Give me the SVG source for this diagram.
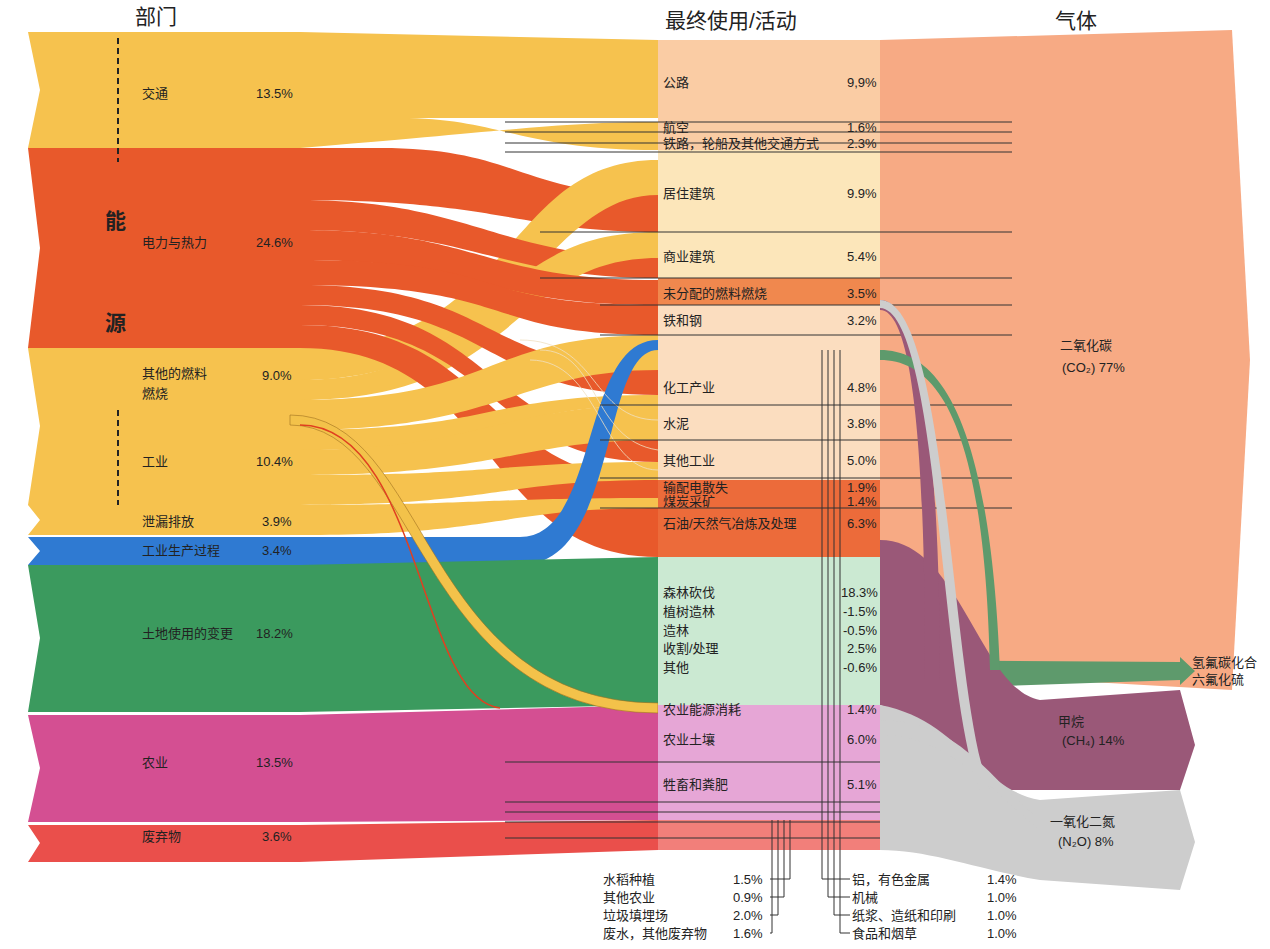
<svg xmlns="http://www.w3.org/2000/svg" width="1270" height="949" viewBox="0 0 1270 949">
<style>
text{font-family:"Liberation Sans","Noto Sans CJK SC",sans-serif;font-size:13px;fill:#222}
.h{font-size:21px}
.b{font-size:21px;font-weight:bold}
.y{fill:#F6C24E}.o{fill:#E8592B}.bl{fill:#2F7AD2}.g{fill:#3B9A5E}.p{fill:#D44F92}.r{fill:#EA4F4B}
.ln{stroke:#333;stroke-width:1;fill:none}
.tl{stroke:#F0E0C0;stroke-width:0.8;fill:none}
</style>
<rect width="1270" height="949" fill="#fff"/>
<g id="headers">
<text x="135" y="24" class="h">部门</text>
<text x="665" y="28" class="h">最终使用/活动</text>
<text x="1055" y="28" class="h">气体</text>
</g>
<g id="gases">
<path d="M880 40 L1232 30 L1250 360 L1232 690 L880 670 Z" fill="#F7AA84"/>
<path d="M880 660 L1180 662 L1180 657 L1195 671 L1180 685 L1180 680 L880 690 Z" fill="#5E9A6C"/>
<path d="M880 540 C960 540 980 690 1040 700 L1180 690 L1195 745 L1180 790 L1000 790 C950 760 930 720 880 705 Z" fill="#9A5878"/>
<path d="M880 705 C960 720 980 790 1040 800 L1180 790 L1195 842 L1180 890 L1040 880 C980 870 930 850 880 850 Z" fill="#CDCDCD"/>
<text x="1060" y="350">二氧化碳</text><text x="1062" y="372">(CO₂) 77%</text>
<text x="1058" y="726" fill="#fff">甲烷</text><text x="1062" y="745">(CH₄) 14%</text>
<text x="1050" y="826">一氧化二氮</text><text x="1058" y="846">(N₂O) 8%</text>
<text x="1192" y="667">氢氟碳化合</text><text x="1192" y="684">六氟化硫</text>
</g>
<g id="sectors">
<path class="y" d="M28 32 L300 32 L300 148 L28 148 L40 90 Z"/>
<path class="o" d="M28 148 L300 148 L300 348 L28 348 L40 248 Z"/>
<path class="y" d="M28 348 L300 348 L300 505 L28 505 L40 426 Z"/>
<path class="y" d="M28 505 L300 505 L300 535 L28 535 L40 520 Z"/>
<path class="bl" d="M28 537 L300 537 L300 565 L28 565 L40 551 Z"/>
<path class="g" d="M28 565 L300 565 L300 712 L28 712 L40 638 Z"/>
<path class="p" d="M28 715 L300 715 L300 822 L28 822 L40 768 Z"/>
<path class="r" d="M28 825 L300 825 L300 862 L28 862 L40 843 Z"/>
</g>
<g id="connectors">
<path class="y" d="M300 32 L658 40 L658 118 L300 118 Z"/>
<path class="y" d="M300 118 L400 118 C500 118 520 150 658 150 L658 122 C560 122 520 130 300 148 Z"/>
<path class="o" d="M300 148 L380 148 C520 148 520 195 658 195 L658 232 C520 232 500 200 300 200 Z"/>
<path class="y" d="M300 348 C520 348 500 160 658 160 L658 195 C540 195 520 380 300 380 Z"/>
<path class="o" d="M300 200 C470 200 500 258 658 258 L658 278 C500 278 470 230 300 230 Z"/>
<path class="y" d="M300 380 C500 380 480 232 658 232 L658 258 C510 258 520 400 300 400 Z"/>
<path class="o" d="M300 230 C480 230 480 280 658 280 L658 305 C480 305 480 260 300 260 Z"/>
<path class="o" d="M300 260 C520 260 460 305 658 305 L658 335 C480 335 520 285 300 285 Z"/>
<path class="o" d="M300 285 C500 285 480 370 658 370 L658 395 C480 395 500 305 300 305 Z"/>
<path class="o" d="M300 305 C500 305 480 440 658 440 L658 462 C480 462 500 325 300 325 Z"/>
<path class="o" d="M300 325 C500 325 480 480 658 480 L658 557 C480 557 500 348 300 348 Z"/>
<path class="y" d="M300 400 C500 400 480 335 658 335 L658 370 C520 370 500 430 300 430 Z"/>
<path class="y" d="M300 430 C500 430 480 395 658 395 L658 405 C500 405 500 450 300 450 Z"/>
<path class="y" d="M300 450 C480 450 500 405 658 405 L658 440 C520 440 500 475 300 475 Z"/>
<path class="y" d="M300 475 C500 475 500 462 658 462 L658 480 C500 480 500 505 300 505 Z"/>
<path class="y" d="M300 505 C480 505 480 498 658 498 L658 508 C500 508 500 535 300 535 Z"/>
<path class="bl" d="M300 537 L520 537 C600 537 580 340 658 340 L658 350 C600 350 620 565 520 565 L300 565 Z"/>
<path class="g" d="M300 565 L658 557 L658 705 L300 712 Z"/>
<path class="p" d="M300 715 L658 705 L658 820 L300 822 Z"/>
<path class="r" d="M300 825 L658 820 L658 850 L300 862 Z"/>
<path d="M290 415 C430 415 420 703 658 703 L658 713 C415 713 420 425 290 425 Z" fill="#F3C24A" stroke="#A07020" stroke-width="0.6"/>
<path d="M300 425 C420 425 420 700 500 708" stroke="#E04020" stroke-width="1.5" fill="none"/>
<path class="tl" d="M520 340 C600 340 590 420 658 420 M540 350 C600 350 590 440 658 450 M530 360 C600 360 600 470 658 470"/>
</g>
<g id="middle">
<rect x="658" y="40" width="222" height="110" fill="#F9C394" opacity="0.85"/>
<rect x="658" y="150" width="222" height="128" fill="#FCE3B3" opacity="0.9"/>
<rect x="658" y="278" width="222" height="27" fill="#F0884E"/>
<rect x="658" y="305" width="222" height="175" fill="#FBD9B8" opacity="0.9"/>
<rect x="658" y="480" width="222" height="77" fill="#EC6B3A"/>
<rect x="658" y="557" width="222" height="148" fill="#CBE9D2"/>
<rect x="658" y="705" width="222" height="115" fill="#E6A6D6"/>
<rect x="658" y="820" width="222" height="30" fill="#F27F7A"/>
</g>
<g id="lines">
<path class="ln" d="M505 122 H1012 M505 132 H1012 M505 143 H1012 M505 152 H1012 M540 232 H1012 M540 278 H1012 M600 305 H1012 M600 335 H1012 M600 405 H1012 M600 440 H1012 M600 478 H1012 M600 508 H1012 M505 762 H880 M505 802 H880 M505 812 H880 M505 822 H880 M505 838 H880"/>
<path d="M880 300 C930 300 940 520 940 680 L925 680 C925 520 920 310 880 310 Z" fill="#9A5878"/>
<path d="M880 350 C940 350 990 420 1000 670 L990 670 C985 430 940 360 880 360 Z" fill="#5E9A6C"/>
<path d="M880 300 C950 300 950 700 990 790 L980 790 C940 700 940 310 880 308 Z" fill="#CDCDCD"/>
<path d="M880 720 C960 720 990 780 1040 820 L1040 830 C990 790 950 735 880 735 Z" fill="#CDCDCD"/>
<path d="M822 350 V879 H850 M828 350 V897 H850 M834 350 V915 H850 M840 350 V933 H850 M790 820 V879 H770 M784 820 V897 H770 M778 820 V915 H770 M772 820 V933 H770" stroke="#333" stroke-width="1" fill="none"/>
<path d="M118 38 V162 M118 410 V505" stroke="#222" stroke-width="2" stroke-dasharray="6 4"/>
</g>
<g id="labels">
<text x="142" y="98">交通</text><text x="256" y="98">13.5%</text>
<text x="142" y="247">电力与热力</text><text x="256" y="247">24.6%</text>
<text x="142" y="378">其他的燃料</text><text x="142" y="398">燃烧</text><text x="262" y="380">9.0%</text>
<text x="142" y="466">工业</text><text x="256" y="466">10.4%</text>
<text x="142" y="526">泄漏排放</text><text x="262" y="526">3.9%</text>
<text x="142" y="555" fill="#fff">工业生产过程</text><text x="262" y="555">3.4%</text>
<text x="142" y="638">土地使用的变更</text><text x="256" y="638">18.2%</text>
<text x="142" y="767">农业</text><text x="256" y="767">13.5%</text>
<text x="142" y="841">废弃物</text><text x="262" y="841">3.6%</text>
<text x="105" y="228" class="b">能</text><text x="105" y="330" class="b">源</text>
<text x="663" y="87">公路</text><text x="847" y="87">9,9%</text>
<text x="663" y="132">航空</text><text x="847" y="132">1.6%</text>
<text x="663" y="148">铁路，轮船及其他交通方式</text><text x="847" y="148">2.3%</text>
<text x="663" y="198">居住建筑</text><text x="847" y="198">9.9%</text>
<text x="663" y="261">商业建筑</text><text x="847" y="261">5.4%</text>
<text x="663" y="298">未分配的燃料燃烧</text><text x="847" y="298">3.5%</text>
<text x="663" y="325">铁和钢</text><text x="847" y="325">3.2%</text>
<text x="663" y="392">化工产业</text><text x="847" y="392">4.8%</text>
<text x="663" y="428">水泥</text><text x="847" y="428">3.8%</text>
<text x="663" y="465">其他工业</text><text x="847" y="465">5.0%</text>
<text x="663" y="492">输配电散失</text><text x="847" y="492">1.9%</text>
<text x="663" y="506">煤炭采矿</text><text x="847" y="506">1.4%</text>
<text x="663" y="528">石油/天然气冶炼及处理</text><text x="847" y="528">6.3%</text>
<text x="663" y="597">森林砍伐</text><text x="841" y="597">18.3%</text>
<text x="663" y="616">植树造林</text><text x="843" y="616">-1.5%</text>
<text x="663" y="635">造林</text><text x="843" y="635">-0.5%</text>
<text x="663" y="653">收割/处理</text><text x="847" y="653">2.5%</text>
<text x="663" y="672">其他</text><text x="843" y="672">-0.6%</text>
<text x="663" y="714">农业能源消耗</text><text x="847" y="714">1.4%</text>
<text x="663" y="744">农业土壤</text><text x="847" y="744">6.0%</text>
<text x="663" y="789">牲畜和粪肥</text><text x="847" y="789">5.1%</text>
<text x="603" y="884">水稻种植</text><text x="733" y="884">1.5%</text>
<text x="603" y="902">其他农业</text><text x="733" y="902">0.9%</text>
<text x="603" y="920">垃圾填埋场</text><text x="733" y="920">2.0%</text>
<text x="603" y="938">废水，其他废弃物</text><text x="733" y="938">1.6%</text>
<text x="852" y="884">铝，有色金属</text><text x="987" y="884">1.4%</text>
<text x="852" y="902">机械</text><text x="987" y="902">1.0%</text>
<text x="852" y="920">纸浆、造纸和印刷</text><text x="987" y="920">1.0%</text>
<text x="852" y="938">食品和烟草</text><text x="987" y="938">1.0%</text>
</g>
</svg>
